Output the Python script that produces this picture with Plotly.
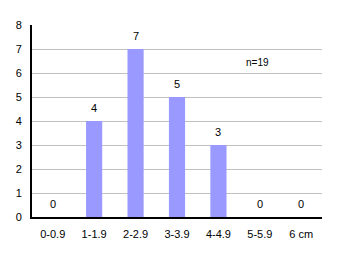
import plotly.graph_objects as go

categories = ["0-0.9", "1-1.9", "2-2.9", "3-3.9", "4-4.9", "5-5.9", "6 cm"]
counts = [0, 4, 7, 5, 3, 0, 0]
y_ticks = [0, 1, 2, 3, 4, 5, 6, 7, 8]
note = "n=19"

fig = go.Figure()
fig.add_trace(go.Bar(x=categories, y=counts, marker=dict(color="#9999FF", line=dict(width=0)),
                     hoverinfo="skip"))

for c, v in zip(categories, counts):
    fig.add_annotation(x=c, y=v, text=str(v), showarrow=False, yanchor="bottom",
                       yshift=5, font=dict(size=11, color="black"))

fig.add_annotation(x=0.825, y=6.42, xref="paper", yref="y", text=note, showarrow=False,
                   font=dict(size=10, color="black"))

fig.update_layout(
    width=337, height=259,
    margin=dict(l=32, r=15, t=25, b=42),
    paper_bgcolor="white", plot_bgcolor="white",
    bargap=0.61,
    showlegend=False,
    font=dict(family="Liberation Sans, Arial, sans-serif", size=11, color="black"),
)
fig.update_xaxes(showline=True, linecolor="black", linewidth=2, showgrid=False,
                 ticks="", tickfont=dict(size=11), ticklabelstandoff=6, fixedrange=True)
fig.update_yaxes(range=[0, 8], tickvals=y_ticks, showline=True, linecolor="black", linewidth=2,
                 showgrid=True, gridcolor="#C0C0C0", gridwidth=1, ticks="", zeroline=False,
                 tickfont=dict(size=11), ticklabelstandoff=6, fixedrange=True)

fig.write_html("out.html")
